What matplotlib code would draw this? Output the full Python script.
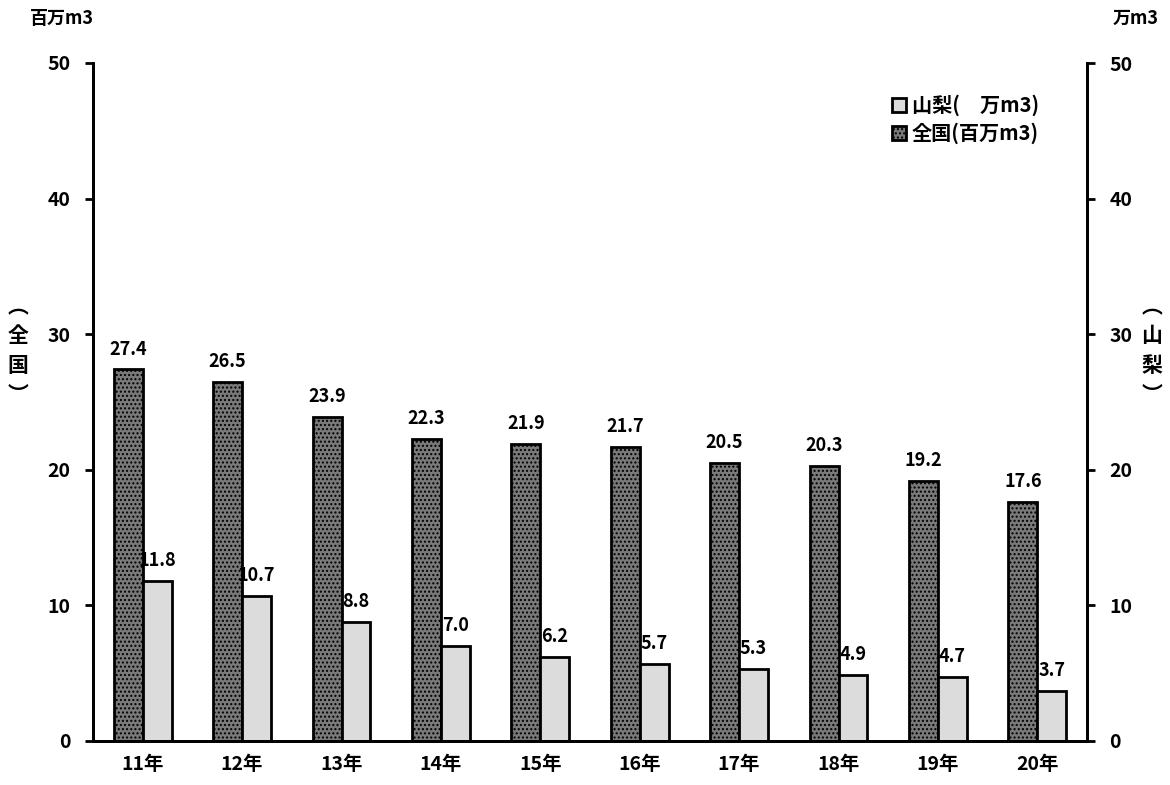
import matplotlib
matplotlib.use("Agg")
import matplotlib.pyplot as plt
import numpy as np

plt.rcParams['font.family'] = ['Noto Sans CJK JP', 'DejaVu Sans']

years = ["11年", "12年", "13年", "14年", "15年", "16年", "17年", "18年", "19年", "20年"]
zenkoku = [27.4, 26.5, 23.9, 22.3, 21.9, 21.7, 20.5, 20.3, 19.2, 17.6]
yamanashi = [11.8, 10.7, 8.8, 7.0, 6.2, 5.7, 5.3, 4.9, 4.7, 3.7]

fig = plt.figure(figsize=(11.7, 7.85), dpi=100)
ax = fig.add_axes([93/1170, 1-741/785, (1087-93)/1170, (741-63)/785])
ax2 = ax.twinx()

x = np.arange(len(years))
w = 0.29
b1 = ax.bar(x - w/2, zenkoku, w, color='#7a7a7a', edgecolor='black', linewidth=2, hatch='....', label='全国(百万m3)')
b2 = ax.bar(x + w/2, yamanashi, w, color='#dcdcdc', edgecolor='black', linewidth=2, label='山梨(　万m3)')

for xi, v in zip(x, zenkoku):
    ax.text(xi - w/2, v + 0.8, f"{v:.1f}", ha='center', va='bottom', fontsize=13, fontweight='bold')
for xi, v in zip(x, yamanashi):
    ax.text(xi + w/2, v + 0.8, f"{v:.1f}", ha='center', va='bottom', fontsize=13, fontweight='bold')

ax.set_xlim(-0.5, len(years) - 0.5)
ax.set_ylim(0, 50)
ax2.set_ylim(0, 50)
ax.set_yticks(range(0, 51, 10))
ax2.set_yticks(range(0, 51, 10))
ax.set_xticks(x)
ax.set_xticklabels(years, fontsize=14, fontweight='bold')
for a in (ax, ax2):
    a.tick_params(axis='y', labelsize=14, width=2, length=6, direction='out', pad=10)
    for lab in a.get_yticklabels():
        lab.set_fontweight('bold')
ax.tick_params(axis='x', length=0, pad=10)
ax.spines['top'].set_visible(False)
ax2.spines['top'].set_visible(False)
for a in (ax, ax2):
    for s in ['left', 'right', 'bottom']:
        a.spines[s].set_linewidth(2)

fig.text(30/1170, 1-18/785, "百万m3", fontsize=13, fontweight='bold', ha='left', va='center')
fig.text(1113/1170, 1-18/785, "万m3", fontsize=13, fontweight='bold', ha='left', va='center')

def vlabel(xpix, chars):
    ys = [307, 336, 365, 394]
    for c, yp in zip(chars, ys):
        fig.text(xpix/1170, 1-yp/785, c, fontsize=15, fontweight='bold', ha='center', va='center')

vlabel(18, ["︵", "全", "国", "︶"])
vlabel(1152, ["︵", "山", "梨", "︶"])

handles = [b2, b1]
ax.legend(handles, [h.get_label() for h in handles], loc='upper right', bbox_to_anchor=(0.97, 0.98),
          frameon=False, handlelength=0.7, handleheight=0.7, handletextpad=0.3, labelspacing=0.3,
          prop={'weight': 'bold', 'size': 14.5})

fig.savefig("out.png", dpi=100)
